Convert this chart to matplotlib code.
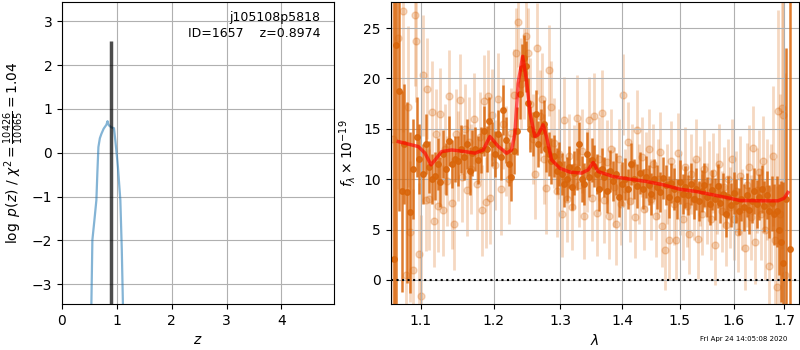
import numpy as np
import matplotlib
matplotlib.use('Agg')
import matplotlib.pyplot as plt
from matplotlib.ticker import ScalarFormatter, NullLocator

# redshift fit
z_best = 0.8974
pz_z = [0.52, 0.536, 0.554, 0.59, 0.627, 0.645, 0.664, 0.69, 0.718, 0.76, 0.81,
        0.83, 0.845, 0.86, 0.90, 0.948, 0.975, 1.003, 1.02, 1.064, 1.09, 1.12]
pz_logp = [-4.0, -3.43, -1.99, -1.55, -1.08, -0.45, 0.13, 0.33, 0.43, 0.55, 0.64,
           0.72, 0.65, 0.62, 0.58, 0.56, 0.25, -0.1, -0.33, -1.08, -2.2, -4.0]
z_line_top = 2.55

# spectrum, binned (dark)
dark_wave = [1.065, 1.068, 1.0716, 1.0748, 1.078, 1.0813, 1.0856, 1.089, 1.0943, 1.098,
             1.102, 1.106, 1.110, 1.114, 1.118, 1.122, 1.126, 1.130, 1.134, 1.138,
             1.142, 1.146, 1.150, 1.154, 1.158, 1.162, 1.166, 1.170, 1.174, 1.178,
             1.182, 1.186, 1.190, 1.194, 1.198, 1.202, 1.206, 1.210, 1.214, 1.218,
             1.222, 1.226, 1.230, 1.234, 1.238, 1.241, 1.244, 1.247, 1.250, 1.254,
             1.258, 1.262, 1.266, 1.270, 1.274, 1.278, 1.282, 1.286, 1.290, 1.294,
             1.298, 1.302, 1.306, 1.310, 1.314, 1.318, 1.322, 1.326, 1.330, 1.334,
             1.338, 1.342, 1.346, 1.350, 1.354, 1.358, 1.362, 1.366, 1.370, 1.375,
             1.380, 1.385, 1.390, 1.395, 1.400, 1.405, 1.410, 1.415, 1.420, 1.425,
             1.430, 1.435, 1.440, 1.445, 1.450, 1.455, 1.460, 1.465, 1.470, 1.475,
             1.480, 1.485, 1.490, 1.495, 1.500, 1.505, 1.510, 1.515, 1.520, 1.525,
             1.530, 1.535, 1.540, 1.545, 1.550, 1.555, 1.560, 1.565, 1.570, 1.575,
             1.580, 1.585, 1.590, 1.595, 1.600, 1.605, 1.610, 1.615, 1.620, 1.625,
             1.630, 1.635, 1.640, 1.645, 1.650, 1.655, 1.660, 1.665, 1.670, 1.675,
             1.680, 1.685, 1.690, 1.694, 1.698, 1.703, 1.711]
dark_flux = [2.1, 23.3, 18.8, 8.8, 13.5, 8.7, 6.7, 11.0, 14.2, 12.0,
             10.5, 13.5, 11.2, 10.0, 10.3, 11.5, 9.7, 12.5, 11.0, 13.8,
             11.5, 12.0, 11.8, 13.0, 12.2, 13.5, 10.8, 12.6, 13.0, 11.9,
             12.9, 14.8, 13.0, 15.8, 13.5, 12.5, 14.5, 12.2, 16.9, 13.9,
             11.5, 10.2, 12.8, 14.8, 18.5, 21.0, 22.0, 21.2, 17.6, 15.0,
             14.5, 16.5, 13.5, 14.8, 15.5, 13.0, 12.5, 11.8, 12.3, 10.8,
             11.5, 10.5, 9.5, 10.0, 11.2, 9.2, 10.6, 11.0, 13.5, 10.0,
             9.5, 12.5, 10.2, 11.9, 11.3, 10.5, 9.0, 11.0, 10.2, 8.8,
             10.8, 9.8, 10.5, 8.2, 9.5, 10.0, 9.0, 11.5, 10.0, 9.3,
             10.6, 9.0, 10.2, 9.4, 8.5, 10.0, 9.2, 8.7, 10.1, 9.4,
             8.2, 9.6, 9.0, 8.0, 9.7, 8.5, 9.2, 8.4, 9.5, 8.0,
             9.0, 7.8, 8.8, 9.4, 8.2, 7.5, 8.9, 8.0, 9.3, 7.6,
             8.5, 6.5, 8.2, 7.4, 8.6, 7.8, 6.8, 8.0, 7.2, 8.4,
             6.9, 7.8, 8.8, 7.5, 8.2, 9.0, 7.3, 8.4, 6.8, 7.6,
             6.5, 6.8, 5.0, 3.8, 1.7, 8.0, 3.1]
dark_err = [40, 40, 12, 10, 6, 9, 8, 5, 4, 3.5,
            3.0, 3.0, 2.6, 2.5, 2.4, 2.6, 2.5, 2.4, 2.6, 2.5,
            2.4, 2.3, 2.5, 2.4, 2.3, 2.5, 2.4, 2.3, 2.2, 2.4,
            2.3, 2.5, 2.3, 2.4, 2.2, 2.3, 2.4, 2.3, 2.5, 2.3,
            2.2, 2.4, 2.3, 2.4, 2.5, 2.4, 2.3, 2.5, 2.4, 2.3,
            2.2, 2.4, 2.3, 2.2, 2.4, 2.3, 2.2, 2.3, 2.1, 2.3,
            2.2, 2.1, 2.3, 2.2, 2.1, 2.3, 2.2, 2.1, 2.2, 2.3,
            2.1, 2.2, 2.0, 2.2, 2.1, 2.0, 2.2, 2.1, 2.0, 2.2,
            2.1, 2.0, 2.1, 2.0, 2.2, 2.1, 2.0, 2.1, 2.0, 2.2,
            2.1, 2.0, 2.1, 2.0, 2.1, 2.0, 2.2, 2.0, 2.1, 2.0,
            2.1, 2.0, 2.1, 2.0, 2.2, 2.0, 2.1, 2.0, 2.1, 2.0,
            2.1, 2.0, 2.1, 2.2, 2.0, 2.1, 2.0, 2.1, 2.2, 2.0,
            2.1, 2.2, 2.1, 2.2, 2.1, 2.2, 2.3, 2.2, 2.3, 2.2,
            2.3, 2.2, 2.3, 2.4, 2.3, 2.4, 2.5, 2.4, 2.6, 2.7,
            3.0, 3.5, 4.5, 6, 8, 15, 40]

# spectrum, individual (faint)
light_wave = [1.064, 1.070, 1.0764, 1.080, 1.083, 1.086, 1.089, 1.092, 1.094, 1.097,
              1.100, 1.103, 1.106, 1.108, 1.111, 1.114, 1.117, 1.120, 1.123, 1.126,
              1.129, 1.132, 1.135, 1.138, 1.141, 1.144, 1.147, 1.150, 1.153, 1.156,
              1.159, 1.162, 1.165, 1.168, 1.172, 1.176, 1.180, 1.183, 1.186, 1.189,
              1.192, 1.195, 1.198, 1.202, 1.206, 1.210, 1.214, 1.218, 1.222, 1.226,
              1.230, 1.233, 1.236, 1.240, 1.244, 1.247, 1.250, 1.254, 1.258, 1.261,
              1.264, 1.268, 1.272, 1.275, 1.278, 1.282, 1.285, 1.290, 1.294, 1.298,
              1.302, 1.306, 1.310, 1.314, 1.318, 1.322, 1.326, 1.330, 1.334, 1.338,
              1.342, 1.346, 1.350, 1.354, 1.358, 1.362, 1.366, 1.370, 1.374, 1.378,
              1.382, 1.386, 1.390, 1.394, 1.398, 1.401, 1.405, 1.409, 1.413, 1.417,
              1.421, 1.425, 1.429, 1.433, 1.437, 1.441, 1.445, 1.449, 1.453, 1.457,
              1.461, 1.465, 1.469, 1.473, 1.477, 1.481, 1.485, 1.489, 1.493, 1.497,
              1.501, 1.505, 1.509, 1.513, 1.517, 1.521, 1.525, 1.529, 1.533, 1.537,
              1.541, 1.545, 1.549, 1.553, 1.557, 1.561, 1.565, 1.569, 1.573, 1.577,
              1.581, 1.585, 1.589, 1.593, 1.597, 1.601, 1.605, 1.609, 1.613, 1.617,
              1.621, 1.625, 1.629, 1.633, 1.637, 1.641, 1.645, 1.649, 1.653, 1.657,
              1.661, 1.665, 1.669, 1.673, 1.677, 1.681, 1.685, 1.688, 1.692, 1.695,
              1.698, 1.701]
light_flux = [14.0, 24.0, 26.7, 0.5, 17.2, 4.8, 1.0, 26.3, 23.7, 2.6,
              -1.6, 20.3, 7.9, 19.0, 8.0, 16.7, 5.8, 14.5, 7.3, 16.5,
              6.9, 13.0, 9.8, 18.3, 7.6, 5.5, 14.5, 12.3, 17.9, 10.2,
              15.0, 8.9, 13.7, 11.0, 16.0, 9.5, 14.2, 6.9, 17.8, 7.7,
              18.3, 8.1, 16.4, 11.4, 18.0, 9.0, 15.5, 12.8, 10.0, 14.6,
              18.4, 22.5, 25.6, 19.5, 20.5, 24.2, 22.5, 17.5, 14.0, 10.5,
              23.0, 16.3, 18.0, 12.0, 9.1, 20.8, 17.2, 13.6, 8.8, 12.5,
              6.5, 15.9, 8.0, 12.3, 7.2, 11.2, 16.1, 9.4, 12.8, 6.3,
              10.9, 15.9, 8.1, 16.3, 6.6, 12.0, 16.6, 7.9, 11.7, 6.3,
              13.0, 9.2, 5.5, 12.0, 7.5, 18.4, 9.0, 13.7, 7.8, 11.5,
              6.2, 14.9, 9.5, 12.2, 7.0, 10.7, 13.0, 8.0, 11.5, 6.3,
              10.0, 12.7, 5.3, 3.0, 9.5, 4.0, 11.8, 7.5, 4.0, 12.6,
              8.5, 6.0, 11.2, 7.3, 4.6, 10.5, 8.0, 12.0, 4.1, 9.3,
              6.5, 11.0, 7.6, 9.8, 6.0, 10.6, 3.5, 8.6, 11.5, 6.8,
              9.2, 5.4, 10.0, 7.2, 12.0, 6.0, 8.8, 4.8, 10.3, 7.0,
              3.2, 9.4, 11.2, 6.2, 13.1, 3.8, 8.9, 10.7, 6.5, 11.8,
              5.0, 9.0, 1.4, 7.5, 12.3, 4.0, -0.7, 16.8, 6.5, 17.1,
              16.4, 0.5]
light_err = [20, 15, 12, 8, 8, 7, 8, 7, 6, 7,
             8, 6, 5, 5, 5, 5, 4.5, 4.5, 4.5, 4.5,
             4.5, 4.5, 4.5, 4.5, 4.5, 4.5, 4.5, 4.5, 4.5, 4.5,
             4.5, 4.5, 4.5, 4.5, 4.5, 4.5, 4.5, 4.5, 4.5, 4.5,
             4.5, 4.5, 4.5, 4.5, 4.5, 4.5, 4.5, 4.5, 4.5, 4.5,
             4.5, 4.5, 4.5, 4.5, 4.5, 4.5, 4.5, 4.5, 4.5, 4.5,
             4.5, 4.5, 4.5, 4.5, 4.5, 4.5, 4.5, 4.5, 4.5, 4.5,
             4.2, 4.2, 4.2, 4.2, 4.2, 4.2, 4.2, 4.2, 4.2, 4.2,
             4.2, 4.2, 4.2, 4.2, 4.2, 4.2, 4.2, 4.2, 4.2, 4.2,
             4.0, 4.0, 4.0, 4.0, 4.0, 4.0, 4.0, 4.0, 4.0, 4.0,
             4.0, 4.0, 4.0, 4.0, 4.0, 4.0, 4.0, 4.0, 4.0, 4.0,
             4.0, 4.0, 4.0, 4.0, 4.0, 4.0, 4.0, 4.0, 4.0, 4.0,
             4.0, 4.0, 4.0, 4.0, 4.0, 4.0, 4.0, 4.0, 4.0, 4.0,
             4.0, 4.0, 4.0, 4.0, 4.0, 4.0, 4.0, 4.0, 4.0, 4.0,
             4.0, 4.0, 4.0, 4.0, 4.0, 4.0, 4.0, 4.0, 4.0, 4.0,
             4.2, 4.2, 4.2, 4.2, 4.2, 4.2, 4.2, 4.2, 4.5, 4.5,
             5, 5, 6, 6, 7, 8, 10, 10, 12, 14,
             16, 20]

# best-fit model
model_wave = [1.0705, 1.0964, 1.1053, 1.1133, 1.1186, 1.1276, 1.1412, 1.1596, 1.1735, 1.1852,
              1.1947, 1.2067, 1.2189, 1.2262, 1.2311, 1.2358, 1.2425, 1.2481, 1.2534, 1.2607,
              1.2657, 1.2733, 1.2785, 1.2863, 1.2991, 1.3148, 1.3334, 1.3440, 1.3521, 1.3602,
              1.3849, 1.4129, 1.4414, 1.4704, 1.5001, 1.5304, 1.5611, 1.5927, 1.6118, 1.6573,
              1.6873, 1.7000, 1.7077]
model_flux = [13.73, 13.24, 12.58, 11.42, 11.9, 12.74, 12.9, 12.74, 12.58, 12.9,
              14.24, 13.25, 12.58, 12.9, 14.57, 19.5, 22.2, 19.9, 16.6, 14.24,
              14.4, 15.4, 14.24, 11.92, 11.09, 10.7, 10.6, 10.93, 11.66, 10.76,
              10.26, 10.0, 9.77, 9.44, 9.0, 8.77, 8.44, 8.11, 7.88, 7.85,
              7.85, 8.11, 8.68]

xticks = [1.1, 1.2, 1.3, 1.4, 1.5, 1.6, 1.7]

spec_color = '#d9650a'

fig = plt.figure(figsize=(8, 3.5), dpi=100)
ax1 = fig.add_axes([0.0775, 0.1314, 0.34, 0.863])
ax2 = fig.add_axes([0.4884, 0.1314, 0.5104, 0.863])

# left: p(z)
ax1.plot(pz_z, pz_logp, color='#1f77b4', alpha=0.55, lw=1.6)
ax1.vlines(z_best, -3.45, z_line_top, color='k', alpha=0.7, lw=2.5)
ax1.set_xlim(0, 4.96)
ax1.set_ylim(-3.45, 3.44)
ax1.set_xticks([0, 1, 2, 3, 4])
ax1.set_yticks([-3, -2, -1, 0, 1, 2, 3])
ax1.grid()
ax1.set_xlabel('$z$')
ax1.set_ylabel(r'$\log\ p(z)$ / $\chi^2=\frac{10426}{10065}=1.04$')
ax1.text(0.95, 0.97, 'j105108p5818\nID=1657    z={0:.4f}'.format(z_best),
         ha='right', va='top', transform=ax1.transAxes, fontsize=9,
         linespacing=1.25)

# right: spectrum
ax2.errorbar(light_wave, light_flux, yerr=light_err, fmt='o', color=spec_color,
             alpha=0.25, ms=5, elinewidth=2.0, capsize=0, zorder=1)
ax2.errorbar(dark_wave, dark_flux, yerr=dark_err, fmt='o', color=spec_color,
             alpha=0.85, ms=4, elinewidth=1.8, capsize=0, zorder=2)
ax2.plot(model_wave, model_flux, color='r', alpha=0.65, lw=2.5, zorder=3)
ax2.axhline(0, color='k', linestyle=':', lw=1.5, zorder=4)

ax2.set_xscale('log')
ax2.set_xlim(1.0608, 1.7305)
ax2.set_xticks(xticks)
ax2.xaxis.set_major_formatter(ScalarFormatter())
ax2.xaxis.set_minor_locator(NullLocator())
ax2.set_ylim(-2.4, 27.6)
ax2.set_yticks([0, 5, 10, 15, 20, 25])
ax2.grid()
ax2.set_xlabel(r'$\lambda$')
ax2.set_ylabel(r'$f_\lambda\times10^{-19}$')

fig.text(0.984, 0.031, 'Fri Apr 24 14:05:08 2020', ha='right', va='center', fontsize=5)

fig.savefig('out.png', dpi=100)
